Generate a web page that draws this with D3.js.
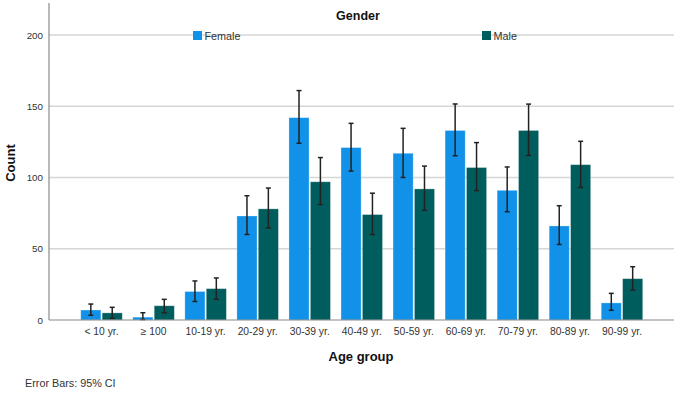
<!DOCTYPE html>
<html><head><meta charset="utf-8">
<script src="https://cdn.jsdelivr.net/npm/d3@7"></script>
<style>
body{margin:0;background:#fff;}
svg{display:block;font-family:Arial,"Liberation Sans",sans-serif;}
</style></head>
<body><svg id="c" width="682" height="395"></svg>
<script>
const categories = ["< 10 yr.","\u2265 100","10-19 yr.","20-29 yr.","30-39 yr.","40-49 yr.","50-59 yr.","60-69 yr.","70-79 yr.","80-89 yr.","90-99 yr."];
const seriesNames = ["Female","Male"];
const femaleValues = [7, 2, 20, 73, 142, 121, 117, 133, 91, 66, 12];
const maleValues   = [5, 10, 22, 78, 97, 74, 92, 107, 133, 109, 29];
const femaleLow  = [3.3, 0.3, 13, 60, 124, 104.5, 100, 115.3, 76, 53, 6.8];
const femaleHigh = [11.2, 5.1, 27.4, 87.2, 161, 138, 134.5, 151.6, 107.4, 80.2, 18.7];
const maleLow    = [1.2, 5.1, 14.5, 64.6, 81, 60, 77, 90.8, 115.5, 93, 21];
const maleHigh   = [8.9, 14.5, 29.5, 92.6, 114, 89, 108, 124.5, 151.5, 125.4, 37.4];
const yTicks = [0, 50, 100, 150, 200];
const colors = ["#1192e8", "#005d5d"];

(function () {
const svg = d3.select("#c");
const pLeft = 49, pRight = 674, pTop = 3, pBottom = 320;

const y = d3.scaleLinear().domain([0, 200]).range([pBottom, 35]);
const x = d3.scaleBand().domain(categories).range([75.5, 648]).paddingInner(0).paddingOuter(0);
const xs = d3.scaleBand().domain(seriesNames).range([0, 41.5]).paddingInner(0.06);

// gridlines
svg.append("g").selectAll("line").data(yTicks.filter(d => d > 0)).join("line")
  .attr("x1", pLeft).attr("x2", pRight)
  .attr("y1", d => y(d)).attr("y2", d => y(d))
  .attr("stroke", "#d6d6d6").attr("stroke-width", 1.3);

// y axis
const yAxis = d3.axisLeft(y).tickValues(yTicks).tickSize(0).tickPadding(6);
const gy = svg.append("g").attr("transform", `translate(${pLeft},0)`).call(yAxis);
gy.select(".domain").remove();
gy.selectAll("text").attr("font-size", 9.8).attr("fill", "#333").attr("font-family", "Arial, 'Liberation Sans', sans-serif");
svg.append("line").attr("x1", pLeft).attr("x2", pLeft).attr("y1", pTop).attr("y2", pBottom)
  .attr("stroke", "#8a8a8a").attr("stroke-width", 1.2);

// bars
const data = categories.map((c, i) => ({
  cat: c,
  vals: [
    {s: "Female", v: femaleValues[i], lo: femaleLow[i], hi: femaleHigh[i], col: colors[0]},
    {s: "Male", v: maleValues[i], lo: maleLow[i], hi: maleHigh[i], col: colors[1]}
  ]
}));
const groupOffset = (x.bandwidth() - 41.5) / 2;
const g = svg.append("g").selectAll("g").data(data).join("g")
  .attr("transform", d => `translate(${x(d.cat) + groupOffset},0)`);
g.selectAll("rect").data(d => d.vals).join("rect")
  .attr("x", d => xs(d.s)).attr("width", xs.bandwidth())
  .attr("y", d => y(d.v)).attr("height", d => y(0) - y(d.v))
  .attr("fill", d => d.col).attr("stroke", "#ffffff").attr("stroke-opacity", 0.35).attr("stroke-width", 0.8);

// error bars
const eb = g.selectAll("g.eb").data(d => d.vals).join("g").attr("class", "eb")
  .attr("transform", d => `translate(${xs(d.s) + xs.bandwidth() / 2},0)`);
eb.append("line").attr("x1", 0).attr("x2", 0)
  .attr("y1", d => y(d.lo)).attr("y2", d => y(d.hi))
  .attr("stroke", "#222").attr("stroke-width", 1.5);
eb.append("line").attr("x1", -2.5).attr("x2", 2.5)
  .attr("y1", d => y(d.hi)).attr("y2", d => y(d.hi))
  .attr("stroke", "#222").attr("stroke-width", 1.5);
eb.append("line").attr("x1", -2.5).attr("x2", 2.5)
  .attr("y1", d => y(d.lo)).attr("y2", d => y(d.lo))
  .attr("stroke", "#222").attr("stroke-width", 1.5);

// x axis
const xAxis = d3.axisBottom(x).tickSize(0).tickPadding(8);
const gx = svg.append("g").attr("transform", `translate(0,${pBottom})`).call(xAxis);
gx.select(".domain").remove();
gx.selectAll("text").attr("font-size", 10.3).attr("fill", "#333").attr("font-family", "Arial, 'Liberation Sans', sans-serif");
svg.append("line").attr("x1", pLeft).attr("x2", pRight).attr("y1", pBottom).attr("y2", pBottom)
  .attr("stroke", "#8a8a8a").attr("stroke-width", 1.2);

// axis titles
svg.append("text").attr("x", 361).attr("y", 361).attr("text-anchor", "middle")
  .attr("font-size", 13).attr("font-weight", "bold").attr("fill", "#111").text("Age group");
svg.append("text").attr("transform", "translate(15,163) rotate(-90)").attr("text-anchor", "middle")
  .attr("font-size", 13).attr("font-weight", "bold").attr("fill", "#111").text("Count");

// legend
svg.append("text").attr("x", 358).attr("y", 20).attr("text-anchor", "middle")
  .attr("font-size", 12.5).attr("font-weight", "bold").attr("fill", "#111").text("Gender");
const legX = [193, 482];
seriesNames.forEach((s, i) => {
  svg.append("rect").attr("x", legX[i]).attr("y", 31).attr("width", 9).attr("height", 9).attr("fill", colors[i]);
  svg.append("text").attr("x", legX[i] + 11.5).attr("y", 39.5).attr("font-size", 10.8).attr("fill", "#333").text(s);
});

// footnote
svg.append("text").attr("x", 25).attr("y", 387).attr("font-size", 10.8).attr("fill", "#333").text("Error Bars: 95% CI");
})();
</script>
</body></html>
